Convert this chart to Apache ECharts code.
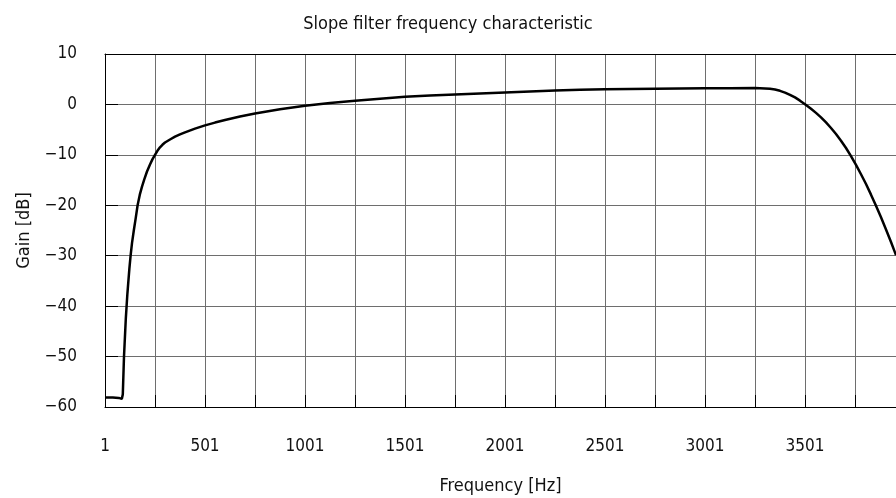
<!DOCTYPE html>
<html>
<head>
<meta charset="utf-8">
<script src="https://cdn.jsdelivr.net/npm/echarts@6/dist/echarts.min.js"></script>
<style>html,body{margin:0;padding:0;background:#fff}#c{width:896px;height:498px}</style>
</head>
<body>
<div id="c"></div>
<script>
var titleText = 'Slope filter frequency characteristic';
var xName = 'Frequency [Hz]';
var yName = 'Gain [dB]';
var freqHz = [1, 40, 70, 85, 89, 90, 92, 94, 96, 99, 102, 105, 109, 113, 118, 123, 129, 136, 145, 154, 164, 175, 186, 197, 211, 226, 238, 251, 263, 276, 288, 301, 326, 351, 376, 401, 451, 501, 551, 601, 676, 751, 876, 1001, 1126, 1251, 1376, 1501, 1626, 1751, 1876, 2001, 2126, 2251, 2376, 2501, 2626, 2751, 2876, 3001, 3126, 3251, 3276, 3301, 3326, 3351, 3376, 3401, 3426, 3451, 3476, 3506, 3531, 3556, 3581, 3606, 3631, 3656, 3681, 3706, 3731, 3756, 3781, 3806, 3831, 3856, 3881, 3906, 3931, 3956];
var gainDb = [-58.1, -58.1, -58.2, -58.4, -58.6, -57.5, -55, -52.5, -50, -47.5, -45, -42.5, -40, -37.5, -35, -32.5, -30, -27.5, -25, -22.7, -20, -17.9, -16.3, -14.9, -13.3, -11.9, -10.9, -10, -9.2, -8.5, -8.0, -7.55, -6.95, -6.4, -5.95, -5.55, -4.8, -4.15, -3.6, -3.1, -2.4, -1.8, -0.95, -0.25, 0.3, 0.75, 1.15, 1.5, 1.75, 1.95, 2.15, 2.35, 2.55, 2.75, 2.9, 3.0, 3.05, 3.1, 3.15, 3.2, 3.22, 3.24, 3.22, 3.18, 3.1, 2.95, 2.7, 2.35, 1.9, 1.4, 0.75, -0.1, -0.85, -1.67, -2.57, -3.57, -4.67, -5.87, -7.19, -8.64, -10.24, -11.99, -13.84, -15.79, -17.89, -20.09, -22.39, -24.79, -27.29, -29.89];
var xTickLabels = [1, 501, 1001, 1501, 2001, 2501, 3001, 3501];

var font = "'DejaVu Sans Condensed', 'Liberation Sans Narrow', sans-serif";
var pts = freqHz.map(function (f, i) { return [f, gainDb[i]]; });
var chart = echarts.init(document.getElementById('c'), null, {renderer: 'canvas'});
chart.setOption({
  animation: false,
  backgroundColor: '#fff',
  title: {text: titleText, left: 'center', top: 10, textStyle: {fontFamily: font, fontSize: 18, fontWeight: 'normal', color: '#111'}},
  grid: {left: 105, right: 0, top: 54, bottom: 91, show: false, containLabel: false, outerBoundsMode: 'none'},
  xAxis: [{
    type: 'value', min: 1, max: 3956, interval: 250, position: 'bottom',
    name: xName, nameLocation: 'middle', nameGap: 70,
    nameTextStyle: {fontFamily: font, fontSize: 18, color: '#111'},
    axisLine: {show: true, onZero: false, lineStyle: {color: '#000', width: 1}},
    axisTick: {show: true, inside: true, length: 12, lineStyle: {color: '#000', width: 1}},
    axisLabel: {margin: 31, fontFamily: font, fontSize: 17, color: '#111', showMaxLabel: false,
      formatter: function (v) { return xTickLabels.indexOf(v) >= 0 ? String(v) : ''; }},
    splitLine: {show: true, lineStyle: {color: '#6e6e6e', width: 1}}
  }, {
    type: 'value', min: 1, max: 3956, position: 'top',
    axisLine: {show: true, onZero: false, lineStyle: {color: '#000', width: 1}},
    axisTick: {show: false}, axisLabel: {show: false}, splitLine: {show: false}
  }],
  yAxis: {
    type: 'value', min: -60, max: 10, interval: 10,
    name: yName, nameLocation: 'middle', nameGap: 64, nameRotate: 90,
    nameTextStyle: {fontFamily: font, fontSize: 18, color: '#111'},
    axisLine: {show: true, onZero: false, lineStyle: {color: '#000', width: 1}},
    axisTick: {show: true, inside: true, length: 13, lineStyle: {color: '#000', width: 1}},
    axisLabel: {margin: 28, fontFamily: font, fontSize: 17, color: '#111',
      formatter: function (v) { return v < 0 ? '\u2212' + Math.abs(v) : String(v); }},
    splitLine: {show: true, lineStyle: {color: '#6e6e6e', width: 1}}
  },
  series: [{
    type: 'line', xAxisIndex: 0, data: pts, showSymbol: false, symbol: 'none',
    smooth: false,
    lineStyle: {color: '#000', width: 2.5},
    clip: true
  }]
});
</script>
</body>
</html>
